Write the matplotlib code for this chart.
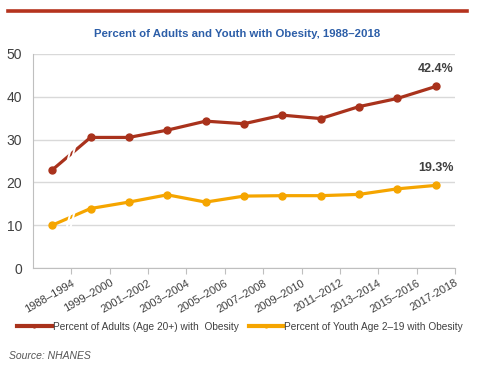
import matplotlib
matplotlib.use("Agg")
import matplotlib.pyplot as plt
from matplotlib.lines import Line2D

plt.rcParams['font.family'] = ['Liberation Sans', 'DejaVu Sans']

periods = ["1988–1994", "1999–2000", "2001–2002", "2003–2004", "2005–2006", "2007–2008",
           "2009–2010", "2011–2012", "2013–2014", "2015–2016", "2017-2018"]
adults = [22.9, 30.5, 30.5, 32.2, 34.3, 33.7, 35.7, 34.9, 37.7, 39.6, 42.4]
youth = [10.0, 13.9, 15.4, 17.1, 15.4, 16.8, 16.9, 16.9, 17.2, 18.5, 19.3]
adult_label = "Percent of Adults (Age 20+) with  Obesity"
youth_label = "Percent of Youth Age 2–19 with Obesity"

red = "#A9321C"
orange = "#F5A500"
grid_c = "#D9D9D9"
text_c = "#404040"

fig = plt.figure(figsize=(5, 3.77), dpi=100)
ax = fig.add_axes([0.066, 0.289, 0.844, 0.568])

x = list(range(len(periods)))
ax.plot(x, adults, color=red, lw=2.3, marker='o', ms=5, zorder=3)
ax.plot(x, youth, color=orange, lw=2.3, marker='o', ms=5, zorder=3)

# break marks on first segment
for series in (adults, youth):
    xm = 0.5
    ym = (series[0] + series[1]) / 2
    for dx in (-0.05, 0.05):
        ax.plot([xm + dx - 0.07, xm + dx + 0.07], [ym - 2.4, ym + 2.4],
                color='white', lw=1.4, zorder=4, solid_capstyle='butt')

ax.set_xlim(-0.5, len(periods) - 0.5)
ax.set_ylim(0, 50)
ax.set_yticks([0, 10, 20, 30, 40, 50])
ax.set_xticks([i + 0.5 for i in x])
ax.set_xticklabels(periods, rotation=30, ha='right', rotation_mode='anchor',
                   fontsize=8, color=text_c)
ax.tick_params(axis='x', length=4, color='#BFBFBF', pad=3)
ax.tick_params(axis='y', length=0, labelsize=10, labelcolor=text_c, pad=8)
ax.yaxis.grid(True, color=grid_c, lw=1)
ax.set_axisbelow(True)
for s in ('top', 'right'):
    ax.spines[s].set_visible(False)
for s in ('left', 'bottom'):
    ax.spines[s].set_color('#BFBFBF')

ax.annotate(f"{adults[-1]}%", (x[-1], adults[-1]), xytext=(0, 8), textcoords='offset points',
            ha='center', va='bottom', fontsize=9, fontweight='bold', color=text_c)
ax.annotate(f"{youth[-1]}%", (x[-1], youth[-1]), xytext=(0, 8), textcoords='offset points',
            ha='center', va='bottom', fontsize=9, fontweight='bold', color=text_c)

# top red rule
fig.add_artist(Line2D([0.016, 0.934], [0.971, 0.971], color="#B5331E", lw=2.6,
                      transform=fig.transFigure))
fig.text(0.474, 0.91, "Percent of Adults and Youth with Obesity, 1988–2018",
         ha='center', va='center', fontsize=8.2, fontweight='bold', color="#2C5EA8")

handles = [Line2D([], [], color=red, lw=3, marker='o', ms=2),
           Line2D([], [], color=orange, lw=3, marker='o', ms=2)]
fig.legend(handles, [adult_label, youth_label], loc='center', bbox_to_anchor=(0.48, 0.133),
           ncol=2, frameon=False, fontsize=7.3, handlelength=3.4, handletextpad=0.1,
           columnspacing=1.0, labelcolor=text_c)

fig.text(0.018, 0.057, "Source: NHANES", fontsize=7.5, style='italic', color='#555555',
         ha='left', va='center')

fig.savefig("out.png", dpi=100)
